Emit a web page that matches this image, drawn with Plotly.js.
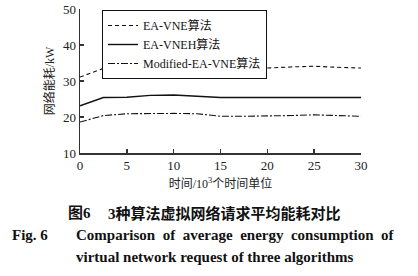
<!DOCTYPE html>
<html>
<head>
<meta charset="utf-8">
<script src="https://cdn.plot.ly/plotly-3.0.1.min.js"></script>
<style>html,body{margin:0;padding:0;background:#fff;}#chart{width:418px;height:276px;}</style>
</head>
<body>
<div id="chart"></div>
<script>
// Data
var timeX = [0, 2.5, 5, 7.5, 10, 12.5, 15, 17.5, 20, 22.5, 25, 27.5, 30];
var eaVne = [31.1, 33.5, 33.6, 33.8, 33.9, 34.1, 33.3, 33.4, 33.6, 33.9, 34.1, 33.8, 33.6];
var eaVneh = [23.1, 25.4, 25.5, 26.0, 26.1, 25.8, 25.4, 25.4, 25.5, 25.4, 25.4, 25.4, 25.4];
var modEaVne = [18.6, 20.4, 20.9, 21.0, 21.0, 20.9, 20.2, 20.2, 20.2, 20.4, 20.6, 20.4, 20.2];
var seriesNames = ['EA-VNE算法', 'EA-VNEH算法', 'Modified-EA-VNE算法'];
var xTickVals = [0, 5, 10, 15, 20, 25, 30];
var yTickVals = [10, 20, 30, 40, 50];

var FONT = "'Liberation Serif', 'Times New Roman', 'Noto Sans CJK SC', serif";
var CJK = "'Liberation Serif', 'Noto Sans CJK SC', sans-serif";

var traces = [
  {x: timeX, y: eaVne, name: seriesNames[0], mode: 'lines',
   line: {color: '#111', width: 1.1, dash: '4px,3px'}},
  {x: timeX, y: eaVneh, name: seriesNames[1], mode: 'lines',
   line: {color: '#111', width: 1.4, dash: 'solid'}},
  {x: timeX, y: modEaVne, name: seriesNames[2], mode: 'lines',
   line: {color: '#111', width: 1.1, dash: '7px,2px,2px,2px'}}
];

function px2x(p){ return (p - 80) / 281; }
function px2y(p){ return (153 - p) / 144; }

var annotations = [
  {text: '<b>图6</b>', x: px2x(66), y: px2y(213), xref: 'paper', yref: 'paper',
   xanchor: 'left', yanchor: 'middle', showarrow: false, font: {family: CJK, size: 15, color: '#111'}},
  {text: '<b>3种算法虚拟网络请求平均能耗对比</b>', x: px2x(106), y: px2y(213), xref: 'paper', yref: 'paper',
   xanchor: 'left', yanchor: 'middle', showarrow: false, font: {family: CJK, size: 15, color: '#111'}},
  {text: '<b>Fig. 6</b>', x: px2x(10), y: px2y(235), xref: 'paper', yref: 'paper',
   xanchor: 'left', yanchor: 'middle', showarrow: false, font: {family: FONT, size: 15, color: '#111'}},
  {text: '<b>Comparison \u00A0of \u00A0average \u00A0energy \u00A0consumption \u00A0of</b>', x: px2x(74), y: px2y(235), xref: 'paper', yref: 'paper',
   xanchor: 'left', yanchor: 'middle', showarrow: false, font: {family: FONT, size: 15, color: '#111'}},
  {text: '<b>virtual network request of three algorithms</b>', x: px2x(74), y: px2y(257), xref: 'paper', yref: 'paper',
   xanchor: 'left', yanchor: 'middle', showarrow: false, font: {family: FONT, size: 15, color: '#111'}}
];

var layout = {
  width: 418, height: 276,
  margin: {l: 80, r: 57, t: 9, b: 123, pad: 0},
  paper_bgcolor: '#fff', plot_bgcolor: '#fff',
  font: {family: FONT, size: 12, color: '#222'},
  showlegend: true,
  legend: {x: px2x(102), y: px2y(10), xanchor: 'left', yanchor: 'top',
    bgcolor: '#fff', bordercolor: '#111', borderwidth: 1,
    font: {family: FONT, size: 12, color: '#111'}, tracegroupgap: 0, itemwidth: 30},
  xaxis: {range: [0, 30], tickvals: xTickVals, ticktext: xTickVals.map(String),
    showline: true, linecolor: '#333', linewidth: 1.5, ticks: 'inside', ticklen: 4,
    tickcolor: '#333', tickwidth: 1.5, showgrid: false, zeroline: false,
    tickfont: {family: FONT, size: 13, color: '#222'},
    title: {text: '时间/10<sup>3</sup>个时间单位', font: {family: CJK, size: 12, color: '#222'}, standoff: 7}},
  yaxis: {range: [10, 50], tickvals: yTickVals, ticktext: yTickVals.map(String),
    showline: true, linecolor: '#333', linewidth: 1.5, ticks: 'inside', ticklen: 4,
    tickcolor: '#333', tickwidth: 1.5, showgrid: false, zeroline: false,
    tickfont: {family: FONT, size: 13, color: '#222'},
    title: {text: '网络能耗/kW', font: {family: CJK, size: 12, color: '#222'}, standoff: 5}},
  annotations: annotations
};

Plotly.newPlot('chart', traces, layout, {displayModeBar: false, staticPlot: true});
</script>
</body>
</html>
